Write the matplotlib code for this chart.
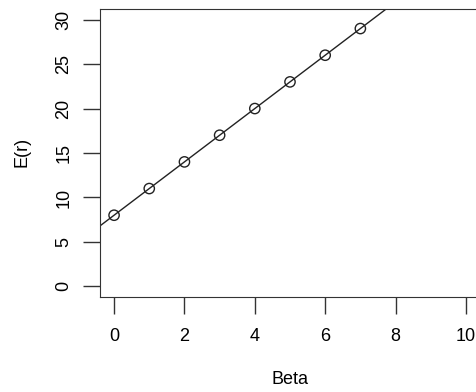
import numpy as np
import matplotlib.pyplot as plt

plt.rcParams['font.family'] = ['Liberation Sans', 'DejaVu Sans']

beta = [0, 1, 2, 3, 4, 5, 6, 7]
expected_return = [8, 11, 14, 17, 20, 23, 26, 29]
intercept, slope = 8, 3

fig = plt.figure(figsize=(4.77, 3.92), dpi=100)
ax = fig.add_axes([100 / 477, 1 - 297 / 392, 380 / 477, 288 / 392])

xs = np.array([-1, 12])
ax.plot(xs, intercept + slope * xs, color="#222222", lw=1)
ax.scatter(beta, expected_return, s=55, facecolors="none", edgecolors="#222222", linewidths=1, zorder=3)

ax.set_xlim(-0.4, 10.4)
ax.set_ylim(-1.2, 31.2)
ax.set_xticks([0, 2, 4, 6, 8, 10])
ax.set_yticks([0, 5, 10, 15, 20, 25, 30])
ax.tick_params(length=12, width=1, labelsize=13, pad=10, color="#333333")
ax.tick_params(axis="y", pad=8)
for lbl in ax.get_yticklabels():
    lbl.set_rotation(90)
    lbl.set_va("center")
for s in ax.spines.values():
    s.set_color("#333333")

fig.text(290 / 477, 1 - 380 / 392, "Beta", ha="center", va="center", fontsize=13)
fig.text(22 / 477, 1 - 152 / 392, "E(r)", ha="center", va="center", rotation=90, fontsize=13)

fig.savefig("out.png", dpi=100)
